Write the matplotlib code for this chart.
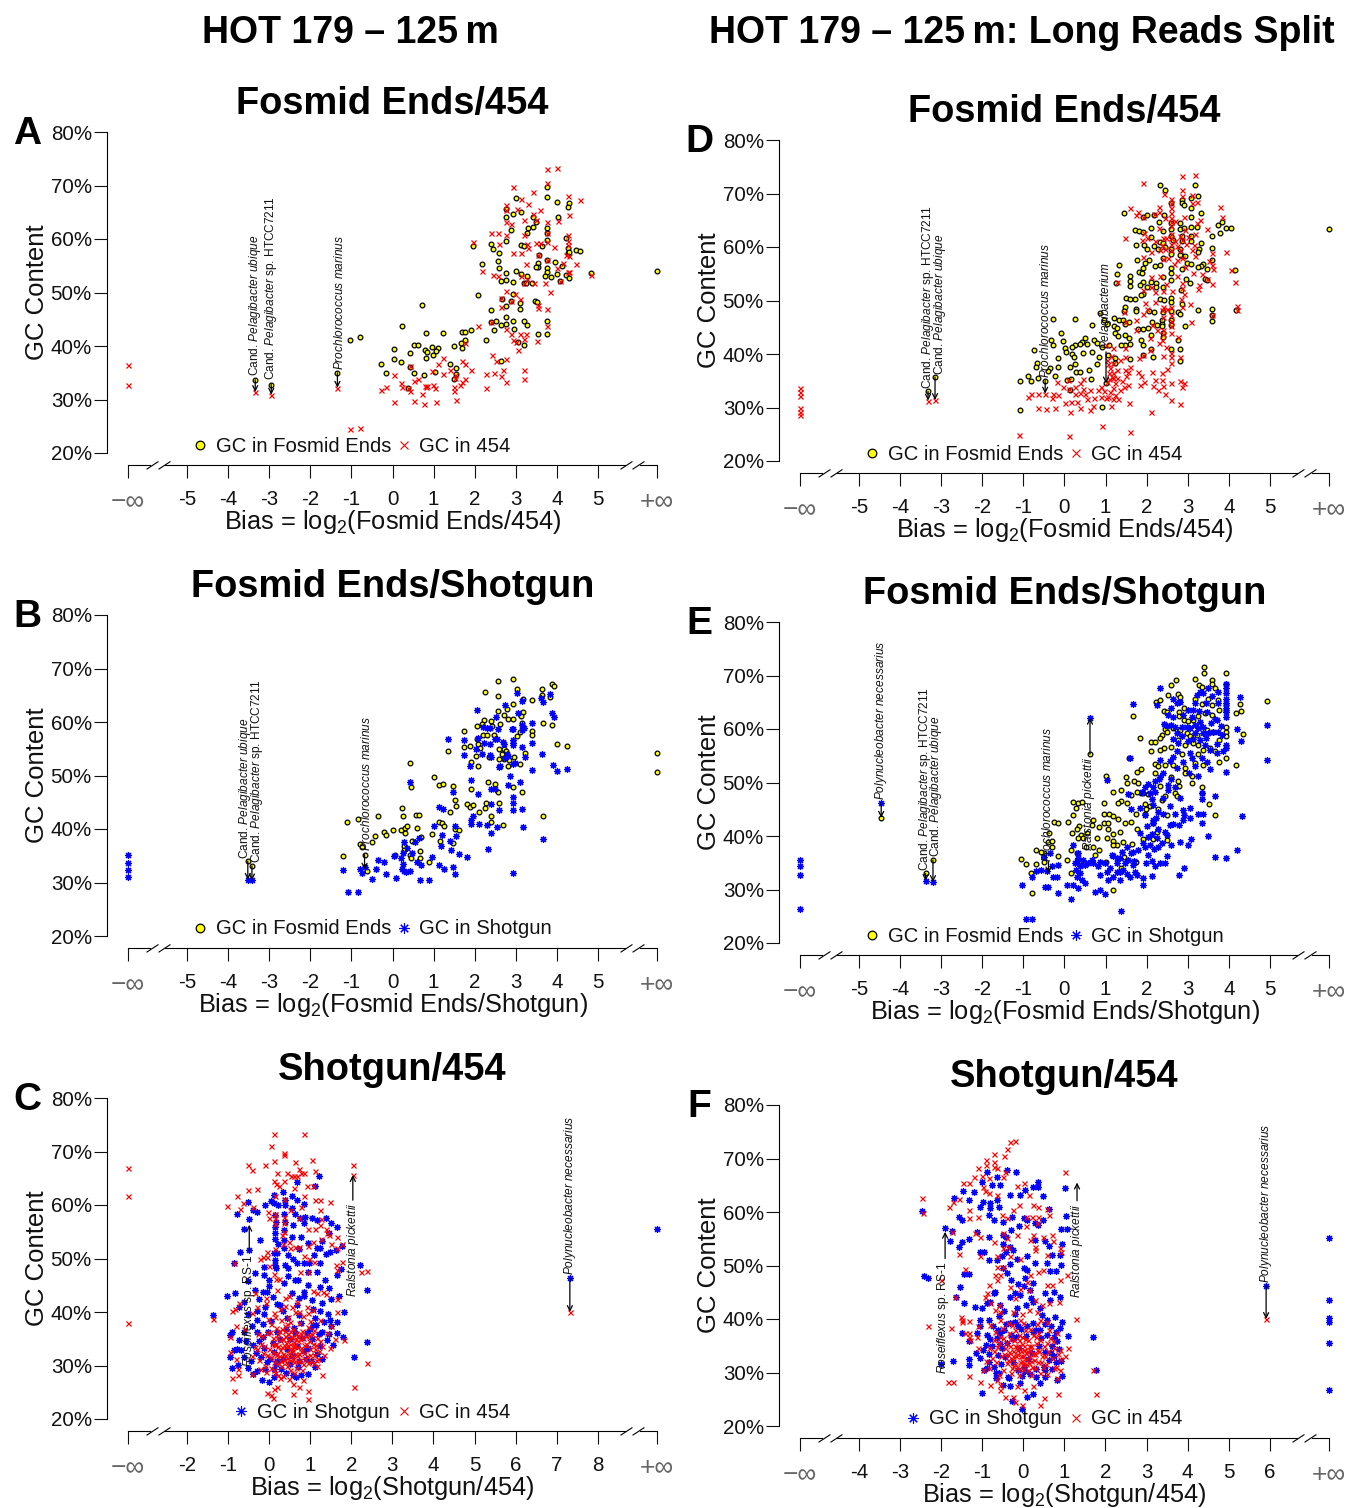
import numpy as np
import matplotlib
matplotlib.use('Agg')
import matplotlib.pyplot as plt
from matplotlib.lines import Line2D

plt.rcParams['font.family'] = ['Liberation Sans', 'DejaVu Sans']
plt.rcParams['mathtext.fontset'] = 'custom'
plt.rcParams['mathtext.rm'] = 'Liberation Sans'
plt.rcParams['mathtext.it'] = 'Liberation Sans:italic'
plt.rcParams['mathtext.bf'] = 'Liberation Sans:bold'
plt.rcParams['mathtext.default'] = 'regular'

INF = np.inf
W, H = 1348, 1508

# ---------------------------------------------------------------- data A
A_fosmid = [(INF,54.1),(4.83,53.6),(4.47,58),(4.55,57.8),(4.29,66.7),(4.26,66),(4.03,64.1),(4,67),(3.77,67.9),(3.77,69.8),(3.01,67.6),(2.77,65.7),(2.77,64.2),(2.93,64.7),(3.13,65),(3.41,64.2),(3.5,63.2),(3.43,62.3),(3.3,62),(3.28,61.2),(2.89,61.7),(3.77,62.1),(3.77,61.2),(3.77,59.8),(2.77,59.6),(2.4,59.1),(2.44,58.1),(1.96,58.6),(2.58,57.4),(3.13,58.9),(3.19,58.6),(3.63,58.7),(3.57,57.1),(4.23,60.2),(4.26,58.3),(4.26,57.4),(4.3,57.5),(2.18,55.4),(2.57,55.8),(2.58,54.5),(2.77,53.6),(3,54.1),(3.13,53.5),(3.28,53),(3.53,55.6),(3.53,54.8),(3.49,54.7),(3.77,56.1),(3.77,54.6),(3.77,53.9),(3.71,53),(3.85,52.9),(3.95,55.7),(4.13,55),(4,53.4),(4.07,52.1),(4.23,53.3),(4.3,52.8),(2.65,52.2),(2.77,52.4),(2.93,51.9),(3.19,51.7),(3.24,51.7),(3.4,51.8),(2.93,49.7),(2.09,49.5),(2.67,48.7),(2.89,48.4),(3.09,48),(3.46,48.4),(3.52,48.2),(3.09,46.9),(2.77,47.4),(2.4,46.8),(0.72,47.7),(2.77,45.4),(2.93,44.7),(3.19,44.7),(3.28,43.9),(3.77,44.7),(2.52,44.7),(2.4,44.4),(2.65,44),(2.77,44.2),(2.96,43.1),(2.47,42.9),(3.55,42.2),(3.77,42.2),(0.23,43.8),(0.81,42.4),(1.23,42.4),(1.69,42.6),(1.77,42.6),(1.92,42.9),(2.28,41.2),(3.06,40.7),(3.19,40.2),(-1.04,41.2),(-0.78,41.7),(0.04,39.4),(0.53,40.1),(0.62,40.1),(0.97,39.9),(1.11,39.6),(1.05,39),(0.78,39.2),(0.84,38.8),(0.42,38.6),(0.99,38.4),(0.82,37.7),(1.49,40),(1.67,40.5),(1.69,39.7),(1.77,41.1),(0.04,37.6),(0.21,37),(-0.29,36.7),(-0.16,34.9),(0.42,36),(0.53,35),(0.77,34.5),(1.03,35.1),(1.39,36.7),(1.54,35.8),(1.54,34.8),(1.49,33.8),(2.63,37.2),(0.38,32.1),(-1.34,35),(-3.34,33.7),(-2.95,32.8)]
A_454 = [(-INF,36.4),(-INF,32.8),(-1.04,24.4),(-0.78,24.7),(-3.34,31.4),(-2.95,30.9),(-1.34,32.2),(3.77,73.1),(4,73.2),(3.77,70.4),(2.93,69.7),(3.41,68.7),(3.13,67.4),(3.3,66.6),(2.77,66.4),(4.56,67.3),(4.26,68),(3.02,65.7),(2.77,65.5),(3.58,65.4),(3.43,64.7),(4.3,64.4),(3.19,63.6),(3.49,63.6),(4.03,63.3),(3.77,63.2),(2.77,63.2),(2.89,62.8),(2.4,61.2),(2.57,61.2),(2.77,60.7),(3.19,60.7),(3.77,61.2),(4.26,60.8),(1.96,59.5),(2.58,59),(3.5,59.3),(3.59,59.3),(3.77,59.5),(3.94,58.5),(3.28,59),(3.29,58.3),(3.13,57.4),(2.93,57.3),(3.55,57.1),(4.26,59.6),(4.26,58.8),(4.23,57.1),(4.3,56.8),(3.77,56),(3.26,55.4),(4.14,55.5),(4.47,55.4),(2.18,54.1),(2.45,53.3),(2.57,53),(4,54.6),(4.26,53.8),(4.3,53.8),(3.13,53.1),(3.28,52.6),(3.19,51.7),(3.45,51.7),(3.71,51.7),(4.07,52.1),(4.83,53.2),(3.84,50.1),(2.77,50.3),(2.99,49.7),(2.65,49),(3.09,48.7),(2.89,48.4),(2.65,47.2),(3.53,47.6),(3.55,47.1),(3.77,47),(2.09,43.8),(2.4,44.4),(3.77,43.7),(2.77,43.1),(2.89,42.3),(3.09,42.3),(3.25,42.3),(3.19,41.3),(2.93,41.1),(3,40.8),(3.52,40.9),(3.06,39.3),(1.77,40.6),(2.41,38.4),(2.53,37.2),(2.77,37.6),(1.23,37.7),(1.69,37.2),(1.77,36.7),(1.11,36.7),(0.42,36.3),(1.39,35.5),(1.92,35.5),(2.68,35.5),(3.19,35.6),(2.28,34.8),(2.48,35),(2.64,34.4),(2.77,33.3),(3.19,33.9),(0.97,35.3),(1.23,34.8),(0.04,34.5),(1.53,34.6),(1.53,34.1),(1.77,33.9),(1.69,33.3),(1.65,32.7),(2.28,32.1),(0.63,33.8),(0.53,33.4),(0.21,33),(0.23,32.3),(-0.16,32.3),(-0.29,31.7),(0.37,32.2),(0.42,31.6),(0.78,32.5),(0.84,32.5),(0.82,32.4),(0.99,32.7),(1.03,32.2),(1.49,32.3),(1.49,31.5),(0.72,31),(0.04,29.6),(0.53,29.7),(0.77,29.2),(1.05,29.5),(1.54,30)]

# ---------------------------------------------------------------- data B
B_fosmid = [(INF,54.2),(INF,50.6),(-3.52,34),(-3.42,33.1),(2.56,67.7),(2.92,68),(3.04,66.2),(2.26,65.7),(2.56,64.8),(3.63,66.2),(3.63,65.1),(3.89,67.1),(3.92,66.8),(3.82,64.6),(3.4,64.2),(3.18,64.3),(2.92,63.3),(2.78,62.4),(2.56,62),(2.72,61.3),(3.18,61.9),(3.13,61.2),(2.92,60.5),(2.82,60.5),(2.22,60.3),(2.18,59.7),(2.4,60.1),(2.62,59.6),(3.14,59.9),(3.67,59.9),(3.89,59.4),(2.06,59.2),(2.41,59.2),(1.74,58.3),(3.1,58.2),(3.4,58.4),(3.4,57.6),(3.02,57.4),(2.47,57.6),(2.19,57.6),(2.3,57.6),(2.06,56.9),(2.07,55.9),(1.75,55.4),(1.89,55.5),(2.13,55.2),(1.35,54.6),(2.03,53.7),(2.58,54.9),(2.72,54.9),(2.76,54.5),(2.67,54),(2.96,53.4),(2.72,53.1),(2.58,53.1),(2.35,53.4),(2.84,52.9),(3.22,54.2),(3.99,55.8),(4.24,55.6),(1.92,52.5),(2.08,51.8),(2.82,51.8),(3.09,52.1),(0.43,52.3),(1.02,49.7),(1.13,48.2),(1.22,48.4),(1.47,48.1),(0.45,47.8),(2.32,48.8),(2.49,48.5),(1.92,47.5),(2.56,46.9),(2.92,47.9),(3.14,46.9),(1.51,45.5),(1.81,44.7),(1.89,44.1),(1.96,44.4),(1.55,44.3),(2.28,44.9),(2.26,44),(2.6,44.9),(0.22,43.9),(0.26,42.5),(0.56,42.7),(0.64,42.6),(-0.35,42.5),(-0.84,41.8),(-1.1,41.3),(1.4,43.1),(2.1,43.2),(2.4,42.4),(2.4,41.3),(3.67,42.4),(1.13,41.4),(1.2,41.1),(1.25,40.6),(2.7,40.8),(0.02,39.75),(-0.21,39.5),(-0.16,38.9),(-0.42,38.7),(0.2,39.9),(0.3,40.1),(0.36,40.6),(0.3,39.3),(0.59,40.1),(0.95,39.1),(1.52,40),(1.63,39.75),(-0.49,37.6),(0.7,38.5),(0.48,37.8),(1.16,37.8),(1.47,37.3),(-0.79,37.2),(-0.75,36.7),(0.28,36.8),(0.27,36.1),(0.68,35.9),(-1.2,35),(-0.68,35.2),(0.07,35.1),(0.43,35.2),(0.44,34.5),(0.67,34.6),(0.89,33.8),(-0.62,32.2)]
B_shotgun = [(-INF,35.1),(-INF,33.6),(-INF,32.3),(-INF,31),(-3.52,30.5),(-3.42,30.4),(3.04,65.4),(3.82,65.2),(3.62,64.5),(3.67,63.8),(3.14,63.9),(2.73,63.1),(2.06,62.3),(3.05,61.7),(3.89,61.6),(3.92,60.9),(2.53,61),(3.4,59.9),(2.9,58.6),(2.94,58.6),(3.16,59.4),(3.19,58.8),(3.16,58.5),(2.21,59.1),(2.29,58.8),(2.37,58.8),(2.56,58.6),(1.75,56.6),(1.35,56.8),(2.09,57),(2.22,56.1),(2.36,55.8),(2.49,56.8),(2.55,56.8),(2.68,56.3),(2.72,55.8),(2.92,56.6),(2.92,56),(2.94,55.7),(3.14,55.3),(3.4,56),(2.03,55),(2.18,54),(1.73,53.8),(2.37,53.8),(2.4,53.4),(2.78,54.1),(2.82,53.7),(2.74,53.2),(3.22,53.4),(3.63,54),(1.89,51.7),(2.58,51.5),(2.62,51.7),(2.94,52.1),(2.98,52.4),(3.4,51.1),(3.9,51.9),(3.99,50.9),(4.24,51.2),(2.87,50),(2.82,48.3),(3.09,48.8),(1.92,49.2),(0.43,48.7),(2.4,47.5),(2.49,47.5),(1.47,46.9),(2.08,46.6),(2.92,45.9),(2.92,44.9),(2.4,44.7),(1.13,44.2),(1.22,43.7),(2.6,43.6),(2.92,43.6),(3.14,43.7),(1.96,42.4),(1.9,41.7),(1.92,40.9),(2.11,40.9),(2.29,40.8),(2.55,40.4),(3.18,40.4),(1.02,40.6),(1.52,40.6),(2.4,39.3),(1.2,38.9),(1.55,38.7),(0.55,37.6),(0.64,38.3),(0.29,37.6),(1.4,37.8),(3.67,38.1),(2.32,36.3),(1.17,36.8),(0.35,36.4),(0.26,35.5),(0.04,35),(0.47,35.5),(1.43,36.1),(1.63,35.4),(1.81,34.7),(0.95,34.8),(0.21,34.5),(-0.35,34.2),(-0.21,33.9),(0.26,33.5),(0.59,33.9),(0.7,33.2),(1.13,33.3),(1.25,32.5),(1.47,32.9),(1.53,31.5),(-1.2,32.3),(-0.79,32.5),(-0.75,31.8),(-0.67,32.95),(-0.41,32.6),(0.22,32.5),(0.28,32.2),(0.43,32.2),(0.33,32),(-0.16,31.6),(0.08,30.8),(-0.5,30.6),(0.68,30.5),(0.89,30.5),(2.92,31.7),(-1.09,28.2),(-0.84,28.2)]

# ---------------------------------------------------------------- data C
C_shotgun = [(INF,55.5),(7.32,46.4),(1.22,65.4),(0.67,64.3),(1.12,63.6),(0.11,61.9),(0.33,62.4),(0.55,61.7),(0.13,60.3),(-0.5,60.5),(-0.77,58.4),(-0.4,59.1),(-0.28,58.6),(-0.1,60),(0.06,60.7),(0.21,60),(0.39,61),(0.39,60),(0.55,59.5),(0.67,60.9),(0.84,60.1),(-0.48,57.3),(-0.62,55.6),(-0.21,53.5),(-0.48,51.5),(-0.71,51.2),(0.63,58.3),(0.75,57.5),(0.88,57.8),(1.04,57.5),(1.16,57.2),(1.38,57.6),(1.52,56.6),(1.65,55.8),(0.15,54.7),(0.15,53.6),(0.23,52.7),(0.37,53.5),(0.37,51.9),(0.59,56.3),(0.55,54),(0.77,54.1),(0.84,56.6),(1.47,54.8),(1.77,52.3),(1.63,51.6),(1.48,51.2),(1.38,50.8),(1.24,51.9),(1.16,51.9),(0.13,51),(0.15,49.7),(0.15,48.8),(0.59,50),(0.69,49.2),(0.85,49.2),(0.98,49.1),(1.24,49.1),(0.96,47.5),(1.16,47.4),(-0.85,49.1),(-0.12,48.5),(-0.12,46.9),(0.4,48.8),(0.47,48.2),(0.47,46.7),(1.65,46.9),(1.74,48),(2.21,48.7),(0.63,46),(0.71,45.9),(0.96,45),(1.24,44.7),(0.01,46),(0.01,44.9),(0.37,45.4),(1.36,45.9),(1.47,44.4),(1.71,43),(1.52,42.4),(2.38,44.2),(-1.01,43),(-0.83,43.6),(-0.34,44.1),(-0.14,43.8),(-0.04,43.8),(0.86,43.7),(0.86,42.9),(1.28,41.7),(1.24,40.1),(1.44,39.7),(0.2,41.5),(0.27,41.3),(0.67,41.4),(1.04,42.2),(-0.28,40.1),(-0.12,39.6),(-0.1,41),(-1.35,39.5),(-0.72,41),(1.83,40),(1.65,38.2),(1.48,38.5),(1.52,37.3),(-0.91,36.3),(-0.95,35.7),(-0.42,37.3),(-0.3,38.5),(1.66,36),(1.81,35.3),(2.38,34.4),(2.06,31.5),(-0.95,31.5),(-0.85,32.9),(-0.67,32.9),(-0.75,30.1),(-0.89,29.6),(-0.5,29.6),(-0.38,28.5),(-0.18,27.3),(0.01,27),(0.11,27.9),(0.59,28.2),(0.79,28.2),(0.96,28.5),(0.05,38.4),(0.2,36.2),(0.45,38.8),(0.6,37),(0.78,38),(1,36.9),(1.15,37.5),(1.3,36.2),(1.05,35),(1.25,33.6),(-0.15,35.4),(-0.3,36.3),(-0.4,33.8),(-0.2,31.6),(1.3,31.2),(1.12,29.8),(0.3,29.3),(0.7,29.8),(0.9,31.2),(-0.1,29.4),(0.16,30.3),(0.5,30.2),(-0.55,34.6),(1.4,34.8)]
C_shotgun_core = [(0.15,55.8),(0.16,56.9),(0.15,58.2),(0.37,55.4),(0.38,56.9),(0.37,58.4),(0.17,48.2),(0.2,51.1),(0.46,50.6),(0.72,51.7),(0.96,52.9),(1.1,50.6),(1.3,53.3),(-0.33,47.2),(-0.5,45.8),(-0.62,41.9),(-0.52,39.7),(-0.25,42.4),(0.1,42.8),(0.55,43.6),(0.72,42.7),(1.06,40.6),(0.74,39.4),(1.12,38.9),(0.35,40.1),(-0.14,37.8),(-0.03,36.3),(-0.24,34.6),(-0.32,32.4),(-0.44,30.9),(-0.62,36.2),(-0.72,34.8),(-0.78,33),(-0.6,31.5),(-0.12,33.2),(0.02,31.2),(0.1,34.2),(0.12,32.6),(0.2,30.9),(0.28,34.9),(0.33,31.2),(0.41,36.9),(0.44,33),(0.52,34.9),(0.57,31.8),(0.63,36),(0.68,33.6),(0.73,30.9),(0.8,35.2),(0.84,32.8),(0.92,36),(0.96,33.3),(1.02,30.9),(1.08,37.6),(1.16,32.2),(1.22,35.8),(1.34,38.2),(1.46,35.9),(1.56,33.8),(-0.05,30.6),(0.42,28.6),(0.12,29.4),(-0.28,28.9),(0.66,27.9)]
C_454 = [(-INF,66.9),(-INF,61.7),(-INF,38),(7.32,40),(0.11,73.3),(0.86,73.3),(0.06,71),(0.37,69.8),(0.37,69.3),(0.11,68.2),(-0.5,67.5),(-0.41,66.5),(-0.09,67.5),(0.64,68),(1.05,68.4),(2.04,67.4),(2.04,65.6),(0.74,66.7),(1.11,66.4),(0.2,65.9),(0.45,65.9),(0.53,65.5),(0.61,65.5),(0.67,65.4),(0.77,65.9),(0.84,66),(0.37,64.5),(0.11,64.4),(0.16,64),(0.24,63.6),(0.92,63.6),(1.08,63.6),(0.61,63.1),(-0.5,62.8),(-0.28,62.9),(0.86,61.7),(-0.77,61.6),(1.11,60.9),(1.23,60.9),(1.49,60.5),(-1.01,59.9),(-0.63,60.4),(-0.71,59.3),(-0.4,59.6),(0.15,61.6),(0.37,61.2),(0.79,59.7),(1.23,59.1),(-0.02,58.6),(0.01,57.5),(0.15,58.4),(0.15,57.5),(0.15,56.5),(0.37,57.7),(0.37,56.6),(0.51,59.1),(0.74,57.5),(1.27,57.3),(1.12,55.6),(1.24,56.3),(1.38,55.6),(1.4,54.8),(1.46,54.4),(1.65,54),(0.31,54.4),(0.37,55),(0.96,55.6),(1.27,53.7),(1.08,53),(0.96,52.3),(0.63,52.1),(0.74,52.1),(0.35,52.8),(0.49,53.1),(0.51,51.9),(0.15,51.7),(1.77,52.7),(1.51,52.7),(1.65,52),(-0.22,49.9),(-0.15,50.2),(-0.04,51.2),(-0.04,50.3),(0.85,50.4),(0.98,49.9),(1.09,49.4),(0.01,48.6),(-0.85,49.2),(1.63,48.8),(1.77,49.3),(1.66,47.9),(2.23,47.4),(2.38,47.6),(0.11,47.1),(0.96,47.5),(0.75,47.4),(0.17,46.2),(0.24,46.2),(0.2,44.2),(1.08,44),(1.18,43.6),(1.32,43.8),(1.39,43.4),(0.48,43),(0.39,42.6),(1.66,42.4),(-0.07,42.6),(-0.07,41.6),(-0.34,43.5),(-0.72,41.7),(-0.83,40.6),(-0.91,40.1),(-1.35,38.6),(0.55,40.9),(0.63,40),(0.74,40),(0.92,41),(0.96,39.9),(1.08,40.4),(1.65,40),(-0.42,39.9),(0.15,39),(0.47,39.1),(-0.3,41),(-0.8,37.3),(-0.62,36.8),(-0.95,35.4),(1.52,37.3),(1.4,36),(1.24,38.5),(1.61,34.9),(1.82,34.8),(1.48,33.3),(-0.95,32.6),(-0.8,31.2),(-0.91,27.6),(-0.85,25.3),(-0.75,29.3),(-0.75,28.2),(-0.42,28.5),(1.28,28.2),(2.39,30.5),(2.06,26),(0.96,25.3),(0.96,23.8),(0.59,26.6),(0.73,26),(0.82,27.2),(0.58,24.7),(0.2,26),(0.12,25.7),(-0.04,24.8),(0.04,24.5),(0.09,23.9),(0,33),(0.05,31.5),(0.1,35.2),(0.15,34),(0.2,32.2),(0.25,36.5),(0.3,30.8),(0.32,33.5),(0.35,35),(0.38,37.3),(0.4,32),(0.42,34.2),(0.45,30),(0.46,35.8),(0.48,33),(0.5,36.5),(0.5,31),(0.52,34),(0.55,32.8),(0.57,35.3),(0.6,30.6),(0.62,33.8),(0.65,36),(0.68,32),(0.7,34.5),(0.75,31),(0.78,33.2),(0.82,35.2),(0.85,32.4),(0.9,34),(0.95,30.5),(1,33),(1.05,35.8),(1.1,32),(1.15,33.8),(1.2,31.2),(1.25,34.5),(-0.1,30),(-0.15,32.4),(-0.2,34),(-0.25,31),(-0.3,33),(-0.05,36),(-0.08,28.7),(0.12,29.2),(0.22,28.2),(0.05,37.7),(0.3,38.5)]
C_454_core = [(-0.18,35.6),(-0.12,33.7),(-0.06,31.9),(0.03,36.3),(0.07,34.1),(0.09,32.6),(0.13,30.7),(0.17,37.1),(0.19,35.1),(0.21,33.6),(0.24,31.7),(0.27,34.7),(0.29,29.9),(0.31,36.9),(0.33,32.1),(0.37,33.9),(0.39,35.6),(0.41,30.6),(0.43,37.8),(0.44,31.4),(0.47,34.9),(0.49,32.4),(0.51,38.2),(0.53,35.4),(0.56,33.1),(0.58,31.2),(0.59,36.8),(0.61,34.3),(0.63,32.2),(0.66,29.6),(0.67,35.6),(0.69,33.4),(0.71,30.9),(0.73,37.9),(0.76,34.9),(0.79,32.7),(0.81,36.5),(0.83,30.2),(0.86,33.9),(0.89,35.6),(0.92,31.7),(0.94,37.2),(0.97,34.5),(1.01,32),(1.03,30.8),(1.06,34.1),(1.09,36.7),(1.12,33.1),(1.14,31),(1.17,35.2),(1.22,32.8),(1.28,33.6),(1.33,31.9),(1.18,29.9),(0.04,29.6),(0.14,28.6),(0.26,27.6),(0.35,28.1),(0.48,27.5),(0.62,28.6),(0.8,29.1),(-0.03,38.6),(0.11,39.8),(0.26,40.6),(0.4,41.2),(0.68,41.8),(0.83,39.3),(1,38.4),(-0.27,35.9),(-0.34,33.4),(-0.42,31.7),(-0.22,29.4),(0.14,33.8),(0.22,35.9),(0.28,32.9),(0.36,31.1),(0.45,33.6),(0.54,32),(0.6,33.6),(0.65,34.9),(0.72,32.2),(0.78,35.9),(0.87,31.2),(0.98,35.7),(1.1,30.4),(0.23,30.4),(0.51,29.1),(0.39,36.5),(0.16,31.9)]

# ---------------------------------------------------------------- data D
D_fosmid = [(INF,63.4),(-3.32,33),(-3.15,35.7),(2.32,71.5),(2.44,70.7),(3.17,71.6),(3.08,69.2),(3.25,69.5),(2.86,68.7),(2.86,68.2),(2.9,67.8),(3.08,67.2),(3.31,66.3),(3.08,65.7),(2.59,68.3),(2.59,63.4),(1.45,66.4),(1.91,65.7),(2.01,66),(2.18,66),(2.43,66),(2.29,64.7),(2.59,64.4),(2.8,64.4),(3.08,63.8),(3.22,63.8),(3.74,64.2),(3.82,64.7),(3.92,63.5),(4.05,63.6),(3.79,62.6),(1.71,63.2),(1.82,62.9),(1.91,62.8),(2.11,63.5),(2.4,62.9),(2.81,63.3),(2.91,63.6),(2.1,61.9),(2.59,62),(2.65,61.4),(2.86,62.1),(2.86,61.2),(3.08,62),(3.08,61.2),(3.59,62.1),(1.74,60.3),(1.93,60.3),(2,59.7),(2.18,60.2),(2.28,59.6),(2.32,61),(2.4,60.7),(2.45,60),(2.59,58.6),(2.59,59.6),(2.81,59.6),(2.86,58.3),(3.33,60.8),(3.28,59.7),(3.26,59.1),(3.6,59.9),(1.77,57.6),(2.05,57.6),(1.96,57.1),(2.2,56.4),(2.4,57.9),(2.32,56.6),(2.81,58.5),(2.94,58.3),(2.97,57.1),(3.08,56.8),(3.6,57.6),(3.38,56.8),(3.32,56.5),(3.26,56.2),(3.46,55.8),(4.14,55.7),(1.32,56.7),(1.92,56),(1.82,55.3),(1.88,55.2),(2.59,56.1),(2.59,55.1),(2.85,55.8),(1.27,54.9),(1.26,53.2),(1.59,54.6),(1.59,53.6),(1.59,52.7),(1.91,53.4),(1.83,52.9),(2,52.6),(2.1,53.4),(2.23,53.3),(2.4,54.4),(2.23,52.6),(2.4,52.5),(2.59,53.8),(2.95,54),(3.06,53.2),(3.43,54.1),(3.47,53.9),(2.83,52),(2.59,50.5),(2.59,49.8),(1.91,51.3),(1.85,51),(1.5,50.5),(1.59,50.2),(1.71,50.2),(2.32,50.2),(2.42,50.1),(2.86,49.3),(3.25,48.3),(3.6,48.4),(4.18,48.3),(1.47,48.8),(1.45,48),(1.74,48.5),(1.74,48),(2.05,48),(2.18,47.9),(2.4,47.9),(2.59,48),(2.77,47.8),(2.81,47.4),(-0.27,46.5),(0.26,46.5),(0.86,47.6),(0.66,45.4),(3.6,47.2),(3.6,46.1),(1.21,46.7),(1.33,46.4),(1.43,46.4),(1.58,46),(0.97,46.4),(1.03,45.6),(1.21,45.2),(1.27,44.8),(1.47,45.6),(2.14,46),(2.24,45.4),(2.36,46.4),(2.36,45.7),(2.36,45.3),(2.59,46.4),(2.59,45.4),(2.92,45.2),(1.8,44.7),(1.92,44.7),(2.02,44.9),(-0.09,44),(-0.03,42.5),(-0.33,42.7),(-0.27,41.7),(0.5,43),(0.42,42.3),(0.26,41.7),(0.38,41.9),(0.54,41.9),(0.71,42.6),(0.8,42.1),(0.91,41.4),(1.09,41.7),(1.23,43.9),(1.31,43.4),(1.47,43.5),(1.58,42.9),(1.59,41.9),(1.47,41.6),(1.37,41.6),(1.85,42.7),(2.1,43.6),(2.4,43.9),(2.4,43.2),(2.77,42.7),(1.92,41.6),(2.1,41),(2.59,40.9),(2.82,40.9),(-0.73,40.7),(0.02,41.2),(0.03,40.4),(0.19,41.4),(0.18,40),(0.24,39.5),(0.46,40.1),(0.66,40.3),(0.85,39.5),(1.07,39.8),(1.23,39.2),(1.24,38.4),(1.59,39),(1.92,39.8),(2.16,39.5),(2.81,38.6),(-0.66,38.4),(-0.7,37.5),(-0.35,37.3),(-0.39,36.8),(-0.15,39.3),(-0.15,37.5),(0.13,37.6),(0.26,38.1),(0.29,36.7),(0.38,36.6),(0.78,38.1),(0.6,37.1),(-0.9,35.9),(-0.82,34.9),(-1.08,34.9),(-0.65,35.6),(-0.47,35),(-0.23,35.8),(0.07,35.1),(0.17,35.3),(0.64,35.3),(1.01,34.5),(0.13,33.2),(-1.08,29.6),(0.91,30.1)]
D_454 = [(-INF,33.6),(-INF,32.9),(-INF,32.2),(-INF,29.9),(-INF,29.2),(-INF,28.6),(-3.32,31.3),(-3.15,31.4),(2.86,73.3),(3.17,73.5),(1.91,72),(2.86,70.6),(2.43,69.9),(3.11,69.8),(2.86,69.6),(2.59,68.9),(2.59,68.3),(3.22,68.4),(3.09,68.2),(2.31,67.5),(1.59,67.3),(3.79,67.5),(3.82,65.6),(1.8,66.5),(1.73,66),(1.92,65.7),(2.18,66.2),(2.31,66.6),(2.45,65.4),(2.91,65.7),(2.59,65.4),(2.59,64.7),(2.59,63.9),(3.3,65),(3.22,64.4),(3.47,63.4),(1.46,61.6),(2.81,62),(2.86,61.3),(1.93,62.7),(2,61.6),(1.88,61.3),(2.4,61.6),(2.31,63.5),(2.59,60.6),(2.59,59.4),(2.7,61.2),(2.81,59.4),(3.09,59.4),(2.32,59.4),(2.44,59.7),(2.1,59.1),(1.92,58.2),(2.4,57.7),(2.85,57.9),(2.73,57.6),(3.18,58.3),(3.6,58.8),(3.6,56.6),(3.62,55.8),(3.52,57.4),(3.92,59),(4.04,55.7),(4.15,53.4),(3.34,55),(3.46,54.1),(3.6,53),(1.27,53.5),(2.1,54.3),(2.1,52.5),(1.92,52),(2.32,54.5),(2.85,53.2),(2.85,52.3),(3.27,52.9),(3.26,52.1),(2.61,51.8),(2.4,51.8),(2.84,50.3),(3.05,49.4),(2.85,48.7),(1.97,49.5),(2,48.5),(2.2,49.8),(4.19,49),(4.19,48.2),(2.4,48.8),(2.36,48.2),(2.59,48.8),(2.49,48.5),(1.45,47.9),(1.74,46.4),(1.92,47.4),(1.47,46),(1.74,44.5),(3.6,47.2),(3.08,45.9),(2.4,47),(2.4,44.5),(2.59,43.9),(2.77,43.2),(2.4,43.7),(2.12,45.4),(2.24,44.5),(2.08,42.9),(2.36,42.6),(2.31,42),(2.08,40.8),(1.92,39.8),(1.82,39.2),(2.4,39.6),(2.59,40.2),(2.59,39.4),(2.59,38.4),(2.81,39.4),(1.47,41.1),(1.47,39.5),(1.35,38.9),(1.59,37.6),(1.47,37),(1.19,41.1),(1.01,41.7),(2.13,36.6),(2.36,36.4),(2.36,35.1),(2.21,35.1),(2.4,34),(2.16,34),(2.59,34.6),(2.81,35),(2.91,34.5),(2.87,33.8),(2.44,32.5),(2.59,31.4),(2.82,30.6),(2.1,29.2),(1.94,34.7),(1.84,34.2),(1.55,34.2),(1.5,35.9),(1.55,36.7),(1.19,35.5),(1.07,38.2),(1.11,37.3),(1.09,36.4),(1.15,35.7),(0.46,35.3),(0.38,34.5),(0.26,33.9),(0.09,35.1),(-0.03,33.9),(-0.19,34.8),(1.27,35.5),(1.23,34.5),(1.35,33.3),(0.9,33.9),(1.03,34.8),(-0.65,32.5),(-0.88,32),(-0.82,32.5),(-0.47,32.6),(-0.27,32.5),(-0.31,31.7),(-0.15,32.3),(0.01,30.9),(0.17,31),(0.13,29.2),(0.38,30),(0.26,32.6),(0.38,32.8),(0.5,32.6),(0.62,33.3),(0.9,32),(1,31.7),(1.11,32.9),(1.17,31.6),(1.31,31.6),(1.58,30.8),(1.12,30.3),(0.7,30.2),(0.62,29.6),(-0.65,30),(-0.46,29.8),(-0.23,30),(0.91,26.5),(1.59,25.4),(0.12,24.7),(-1.1,24.8),(0.97,33.1),(1.06,32),(1.18,33.6),(1.24,32.4),(1.39,35),(1.44,33.9),(1.09,35.3),(1.18,36.4),(1.27,37.1),(1.04,38.8),(1.12,39.6),(1.18,38.3),(0.46,33.4),(0.55,31.5),(0.3,31.1),(0.71,31.8),(0.82,33.2),(0.1,33.4),(2.59,67.2),(2.59,66.3),(2.59,62.4),(2.59,61.7),(2.7,64.9),(2.92,63.1),(3.01,61.8),(3.18,62.4),(2.2,61.1),(2.36,60.4),(2.47,61.6),(2.73,60.1),(2.95,60.6),(3.14,60.3),(2.52,58),(2.66,56.9),(2.93,56.2),(3.12,55.1),(2.73,54.6),(2.48,53.1),(2.9,51.2),(2.19,51.5),(2.59,47.2),(2.59,46.1),(2.59,45.2),(2.47,41.4),(2.5,37.2),(1.78,36.6),(1.87,35.9),(2.27,33.2)]

# ---------------------------------------------------------------- data E
E_fosmid = [(3.39,71.5),(3.4,70.4),(3.92,70.5),(3.18,69.4),(3.6,69.2),(3.6,68.4),(3.28,68.3),(3.34,67.9),(2.72,69.1),(2.59,68.2),(2.52,66.3),(2.75,66.5),(2.81,65.9),(3.67,67.6),(3.92,68.5),(2.23,65.1),(2.33,65.5),(2.43,63.4),(2.49,63.2),(2.79,65),(2.91,64),(2.79,63.2),(3.18,65.7),(3.34,64.6),(3.49,65.7),(3.58,64.5),(3.73,65.4),(3.92,64.5),(3.92,63.6),(4.27,64.6),(4.3,63.4),(4.18,63),(1.67,62.4),(4.93,65.3),(2.79,62.5),(2.91,61.6),(3.01,61.5),(3.13,61.7),(3.26,62.4),(3.42,63),(3.58,62.6),(3.77,63.6),(2.45,60),(2.49,59.5),(2.36,58.9),(2.32,58.3),(2.65,60.1),(2.81,59.8),(2.97,59.2),(3.05,58.7),(3.22,58.9),(3.46,59.8),(3.62,59.5),(3.77,58),(3.92,60.4),(3.92,59.5),(4.34,59),(1.84,58.3),(2.1,57.5),(2.2,57.5),(2.1,55.9),(2.43,56.4),(2.59,56.7),(2.32,56.1),(2.77,57.9),(2.93,57),(3.13,57.3),(2.87,55.3),(3.26,57),(3.26,55.4),(3.38,56.1),(3.54,56.4),(3.66,55.8),(3.92,58.6),(0.62,55.3),(3.92,54.6),(3.77,53.8),(4.18,53.3),(1.58,54.5),(2.19,53.4),(2.28,53),(2.19,51.8),(2.45,53.3),(2.65,53.3),(2.92,52.8),(3.18,53.6),(3.38,53.3),(1.85,52.5),(1.76,51.9),(1.02,51.2),(1.5,51),(1.53,50),(1.7,50.3),(1.78,50),(1.85,48),(2.32,49.4),(2.59,51),(2.77,50.3),(2.92,51.8),(3.09,51.3),(2.79,49.4),(3.11,50),(3.34,49.2),(1.37,48.6),(1.19,48.2),(1.37,46.6),(1.29,46.1),(1.53,46.2),(1.63,47.7),(1.77,48.3),(1.92,48),(2.04,47.8),(0.97,46.2),(0.2,46.3),(0.34,46.1),(0.43,46.4),(0.27,45.2),(2.36,46.7),(2.45,47.5),(2.69,48.1),(2.73,47.4),(3.34,48),(3.51,46),(1.96,45.9),(2.08,45.6),(1.98,45),(2.28,45),(2.49,44),(3.66,43.9),(0.21,43.9),(0.08,42.7),(-0.26,42.7),(-0.17,42.4),(-0.37,40.6),(0.95,44.1),(1.09,44.2),(1.19,43.8),(1.31,43.1),(1.47,42.4),(1.63,42.7),(1.74,44.2),(1.96,44.2),(0.7,42.9),(0.66,42.1),(0.85,41.6),(0.95,42.5),(1.07,42.4),(1.07,41.4),(0.36,41.8),(0.3,41.3),(0.18,40.5),(0.4,40.2),(0.34,39.6),(0.44,39.6),(0.54,40.6),(0.8,39.6),(1.03,39.6),(1.19,40.3),(1.19,39.1),(1.35,40.8),(1.43,38.8),(1.76,41.4),(2.16,42.4),(2.24,40.7),(1.92,39.4),(2.15,39.4),(2.49,39.2),(1.27,38.4),(1.17,38.3),(1.65,38.5),(-0.39,38.9),(-0.3,39.1),(-0.31,38),(-0.49,36.8),(-0.56,37.1),(-0.69,37.4),(-1.06,35.7),(-0.94,34.7),(-0.69,34.7),(-0.51,35.2),(-0.15,36.3),(0.15,37.4),(0.3,36.8),(0.52,37.9),(0.69,38),(0.85,37.4),(0.05,35.5),(0.4,35.4),(0.75,36.4),(1.01,35.2),(1.45,36.1),(1.74,35.2),(1.37,34),(-0.82,33),(0.16,33.1),(-0.78,29.4),(1.19,29.9),(-3.38,33),(-3.2,35.5),(-4.46,43.4)]
E_shotgun = [(-INF,35.5),(-INF,34.4),(-INF,32.7),(-INF,26.3),(-3.38,31.6),(-3.2,31.4),(-4.46,46.2),(2.32,67.7),(1.67,64.6),(0.62,62.1),(3.92,68.4),(3.92,67.6),(3.92,66.7),(3.92,65.7),(3.92,64.9),(3.92,64),(3.92,63.2),(3.92,62.3),(4.27,65.9),(4.19,60),(4.29,57.8),(4.33,43.7),(4.93,60.7),(4.93,54.2),(3.3,67),(3.38,66.7),(3.74,67),(3.5,67.6),(2.24,64.5),(2.65,65.7),(2.73,64.8),(2.53,62.6),(2.59,63.9),(3.01,63.6),(2.89,62.6),(3.09,62.3),(3.3,61.4),(3.18,64.8),(3.46,63.2),(3.7,61.7),(3.74,64.8),(2.43,61),(2.49,60.6),(2.69,60.4),(2.73,59.2),(2.85,58.6),(3.05,60.1),(3.18,59.2),(3.36,60.4),(3.36,59.2),(3.5,59.2),(3.62,59.5),(3.74,59.5),(2.65,58.1),(2.77,57.3),(2.97,60.3),(3.3,58),(3.42,57),(3.54,56.1),(3.7,55.5),(3.92,57),(3.92,56.4),(2.65,54.8),(2.57,54),(2.73,55.8),(3.05,55.5),(3.34,54.5),(3.54,52.5),(3.92,51.9),(1.59,54.5),(2.32,54.2),(2.73,52.8),(2.4,51.8),(3.26,51.2),(3.18,53),(2.32,51.1),(2.21,50.3),(1.03,50.5),(2.53,49.5),(2.69,49.2),(2.16,49.2),(1.96,49.1),(2.04,49.8),(1.88,48.3),(2.08,48),(2.12,47),(1.54,47.9),(2.16,45.8),(3.05,45.2),(3.34,48),(3.65,47.5),(3.34,47),(3.38,44.2),(3.26,44.2),(2.4,44.2),(2.28,44.4),(2.7,44.2),(2.89,44.9),(2.91,43.9),(1.63,45),(1.84,45.2),(1.96,43.9),(2.16,43),(3.05,43.3),(3.34,42.4),(2.57,42),(2.65,42.2),(2.79,42),(2.89,43),(3.5,40),(4.19,37.4),(2.16,42.4),(2.28,41.4),(2.45,40.8),(2.49,40.2),(2.24,39.6),(1.84,40.5),(2.04,39.9),(1.92,38.6),(2.08,38.3),(2.27,37.9),(2.59,38.3),(2.81,38.9),(3.01,38.4),(3.07,39.4),(3.66,36.1),(3.92,35.8),(2.49,36.3),(1.51,38),(1.39,37.1),(1.15,36.4),(1.27,35.8),(1.67,37.1),(1.8,37.4),(1.96,38),(1.98,34.9),(2.12,35.4),(2.2,34.3),(2.32,34.9),(2.45,35),(0.2,38.3),(0.32,36.8),(0.34,35.8),(0.26,34.9),(0.38,34.3),(0.5,34.6),(0.66,35.5),(0.7,34.9),(0.82,34.3),(0.99,34.9),(1.27,34.9),(1.35,35.8),(1.47,34.9),(1.67,34.6),(1.72,33.3),(1.59,32.4),(1.35,33.3),(1.11,34),(0.38,33),(0.42,31.8),(0.5,31.2),(0.34,30.2),(0.21,30.8),(0.05,30.8),(0.86,32.7),(1.07,31.8),(1.19,32.4),(1.35,31.8),(1.51,32.9),(1.76,32.7),(2.14,32.6),(1.92,32.1),(1.92,30.8),(-0.51,36.1),(-0.35,36.8),(-0.56,33.6),(-0.31,34.3),(-0.19,32.4),(-0.27,32.4),(-0.43,33.4),(-0.15,34.6),(-0.69,33.4),(-1.04,30.8),(-0.8,32.4),(-0.47,30.5),(-0.39,30.5),(-0.15,29.3),(0.17,28.2),(0.74,29.6),(0.86,29.9),(0.99,29.2),(1.37,25.9),(-0.94,24.4),(-0.78,24.4),(2.79,32.7),(2.91,34),(0.28,33.6),(0.31,32.4),(0.3,35.3),(0.46,35.6),(0.57,34.9),(0.86,35.2),(1.03,33.3),(1.19,36.2),(1.43,33.7),(1.55,35.6),(1.61,36.9),(1.28,33.2),(1.7,35.4),(2.02,36.4),(2.18,37.6),(2.37,38.6),(2.12,40.4),(2.01,41.9),(2.22,43.4),(2.56,45.6),(2.4,47.1),(2.2,48.3),(2.52,48.6),(2.3,50.6),(2.6,50.7),(2.82,47.1),(3.03,51.7),(2.88,53.9),(3.1,54.6),(3.44,58.4),(3.18,60.7),(3.26,60.2),(3.56,61.2),(3.65,61.8),(3.12,63.6),(3.22,66.4),(3.6,66.2),(3.44,64.9),(3.28,63.3),(2.82,65),(2.64,62.2),(2.58,60.8),(2.87,60.4),(3,57.8),(3.12,58.2),(3.81,60.6),(3.84,58.9),(3.7,57.2),(3.85,55.8),(3.46,53.8)]

# ---------------------------------------------------------------- data F
F_shotgun = [(INF,55.1),(INF,43.5),(INF,40.2),(INF,39.4),(INF,35.5),(INF,26.7),(5.91,46.2),(1.69,36.7),(1.77,30.5),(0.37,65.7),(0.37,64.6),(0.48,63),(0.23,64.7),(1.01,64.5),(0.63,60.5),(1.05,59.3),(-2.45,60.1),(-0.17,67.5),(-0.4,67.9),(-0.64,66.6),(-0.88,67.5),(-0.76,65),(-1.01,65.7),(-1.19,63.8),(-1.47,64),(-1.31,62.2),(-1.68,62.7),(-0.56,65),(-0.64,62.2),(-0.8,61.6),(-0.97,61.9),(-1.05,61),(-0.8,60.7),(-0.6,61),(-0.32,63.2),(-0.07,63.2),(0.05,64.1),(-1.57,59.1),(-1.9,57.1),(-1.74,56.5),(-1.49,58.5),(-1.78,54.5),(-1.13,56.3),(-0.83,55.3),(-1.31,55),(-1.49,54.3),(-1.57,53.5),(-0.84,59.4),(-0.72,58.5),(-0.48,58.2),(-0.28,59.1),(-0.11,57.3),(0.01,58.8),(0.09,58.5),(0.29,57.9),(0.37,57.6),(0.49,58.5),(0.92,56.8),(1.06,56.8),(0.29,54.8),(0.54,54.5),(0.62,53.6),(0.94,54),(0.7,52),(0.9,52),(-0.48,55.7),(-0.48,54.1),(-0.32,53.5),(-0.24,52.9),(-1.05,52.6),(-0.95,52.5),(-0.52,51.7),(-0.64,51),(-0.84,51),(-0.15,51.3),(0.09,51.7),(0.01,49.5),(0.09,49.2),(0.29,50.4),(0.58,50.4),(0.66,48.9),(0.8,48.9),(0.92,50.1),(-2.42,48.1),(-2.32,47.6),(-1.45,48.5),(-1.31,48.4),(-1.53,46),(-1.64,44.2),(-1.45,42.9),(-0.68,45.1),(-0.19,44.8),(-0.07,44.5),(0.17,45.4),(0.25,46.7),(0.54,44.8),(0.74,45.1),(0.9,44.2),(0.66,43.6),(-1.17,42.3),(-1.01,42),(-0.88,42.9),(-0.8,43.2),(-0.72,44.8),(-0.56,42.6),(-0.32,44.2),(-0.15,42),(0.25,43.2),(0.41,42),(0.45,40.7),(0.78,40.4),(0.58,39.8),(0.94,39.4),(0.9,38.3),(-1.05,39.8),(-0.84,39.8),(-1.05,38.6),(-1.49,37.4),(-1.33,35.8),(-1.13,37.3),(-0.64,36.4),(-0.4,35.5),(-0.56,37.3),(0.74,36.7),(0.82,35.8),(1.09,36.9),(-1.7,32.2),(-2,31.5),(-1.31,32.5),(-1.31,31.4),(-1.05,32.7),(-0.84,32),(0.94,29.3),(0.82,28.6),(0.54,29.2),(0.41,28),(0.23,25.9),(0.09,25.5),(-0.99,26.2),(-0.32,27.4),(-0.48,27.7),(-0.07,28),(-0.28,24.6),(-0.03,23.1),(-0.66,28.9),(-0.75,35),(-0.7,31),(-0.62,38),(-0.58,30),(-0.52,34.6),(-0.42,39),(-0.38,29.2),(-0.3,37),(-0.25,32),(-0.2,39.5),(-0.12,30.4),(-0.05,38.2),(0.02,31),(0.1,38.6),(0.16,29.8),(0.24,37.6),(0.32,30.6),(0.42,38),(0.5,31),(0.58,37),(0.62,32.4),(0.7,35),(0.76,33),(0.86,34.4),(0.92,32.2),(0.52,33.8),(-0.82,33.5),(-0.9,35.2),(-0.95,30.4)]
F_shotgun_core = [(-0.42,55.4),(-0.43,52.6),(-0.3,56.6),(-0.5,49.6),(-0.4,48.6),(-0.33,50.2),(-0.3,47.3),(-0.12,46.5),(0.05,47.7),(0.02,46.1),(0.18,43.9),(0.08,42.6),(-0.21,40.9),(-0.6,40.6),(-0.46,41.5),(-0.74,38.6),(-0.87,37),(-0.62,33.3),(-0.88,30.9),(-0.55,31.6),(-0.47,37.9),(-0.32,39.3),(-0.13,38.6),(0.25,39.2),(0.52,39),(0.68,38.7),(0.8,37.6),(0.44,36.4),(0.32,37.9),(0.06,36.8),(-0.17,36.6),(-0.66,29.9),(-0.34,28.9),(-0.04,29.4),(0.3,29.2),(0.52,30.4),(0.7,30.6),(0.8,32),(0.68,33.7),(-0.1,34.6),(-0.24,36.3),(0.22,33.6),(0.38,35),(-0.56,35.4),(-0.45,32.9),(0.12,32.6),(0.04,30.2),(-0.8,36.2),(-0.98,34.2),(-1.15,33.6)]
F_454 = [(5.91,40),(1.71,30.5),(1.77,25.9),(1.29,40),(-0.19,73.3),(-0.32,73.1),(-0.4,71.8),(-0.46,70.5),(-0.72,70.9),(-0.9,69.8),(-0.72,69.4),(-0.9,68.7),(-0.72,68.5),(-0.64,68.2),(-1.09,68.2),(-1.19,66.5),(-0.99,66.7),(-0.84,66.3),(-0.45,67.5),(1.01,67.4),(-1.47,65.5),(-1.31,65.4),(-2.46,62.7),(-2.44,59.9),(-0.97,64.7),(-0.92,64),(-0.84,63.5),(-0.64,63.2),(-0.48,66.6),(-0.15,64.9),(0.01,65.4),(0.13,63.2),(-1.57,62.5),(-1.7,61.9),(-1.8,61),(-1.31,60.4),(-1.11,59.1),(-1.31,58.8),(-0.52,59.4),(-0.4,58.8),(-0.24,60.4),(-0.11,61.3),(0.07,59.1),(0.24,61.3),(0.37,60.9),(0.58,60.5),(0.21,59.1),(0.37,59.1),(0.62,59.4),(0.07,57.3),(0.33,57.9),(-0.48,56),(-0.4,55.1),(-0.14,55.7),(-1.05,55.4),(-1.17,56),(-1.74,56.3),(-0.71,54.3),(-0.48,53.2),(-0.36,53.5),(0.25,55.7),(0.7,55.7),(0.49,55.4),(0.72,54.6),(0.17,54.8),(0.29,53.5),(0.9,53.2),(0.92,52.6),(0.58,52),(0.29,52.9),(-1.57,52.1),(-1.05,51.7),(-0.64,51.7),(-0.64,49.8),(-0.48,49.8),(-0.32,51.7),(-0.07,51.3),(-1.41,49.3),(0.49,49.2),(-0.56,48.2),(-0.68,48.2),(0.17,48.2),(0.37,48.7),(1.06,48.2),(0.9,47.3),(-2,47.3),(-0.84,46.4),(-0.64,47.3),(-0.32,46),(0.09,47),(-0.07,45.7),(0.13,45.4),(0.58,46.4),(0.7,46.4),(-0.88,44.8),(-0.92,44.2),(-1.65,44.2),(-0.8,42.9),(-0.68,41.7),(-0.56,41.4),(-0.6,42.6),(-0.19,43.9),(0.29,43.6),(0.45,42.6),(0.62,42.9),(0.86,43.1),(-0.24,41.4),(-0.03,41),(0.13,41.7),(0.33,41.4),(-1.52,40.4),(-1.49,39.5),(-1.31,39.6),(-2.32,38.7),(-1.76,38.3),(-1.49,39.8),(-1.09,38.6),(-0.8,38.9),(-0.56,39.8),(-0.36,39.2),(-0.07,39.8),(0.41,39.8),(0.58,39.5),(0.82,37.3),(-1.33,37.3),(-1.33,36.7),(-1.41,37.3),(-1.29,36.1),(-1.13,36.7),(-1.11,34.5),(0.9,34.2),(1.1,34.5),(1.02,33),(0.9,32.6),(-1.31,29.4),(-1.05,28.2),(-1.82,28.2),(-1.7,28.2),(-0.97,30.5),(-0.84,30.8),(-0.8,27.7),(-0.64,28.6),(-0.56,27.7),(-0.44,25.5),(-0.56,26.7),(-0.19,24.4),(-0.03,23.9),(0.41,23.9),(0.51,25.3),(0.84,25.9),(0.25,27.4),(0.74,30.8),(0.9,30.5),(0.82,28.9),(0.58,29.8),(-0.24,25.5),(0.01,26.7),(-0.15,27.4)]
F_454_core = [(-0.7,34),(-0.65,32),(-0.6,35.5),(-0.55,33),(-0.5,30.5),(-0.48,36.5),(-0.45,34.5),(-0.4,31.8),(-0.38,33.2),(-0.35,37.3),(-0.32,35),(-0.3,30),(-0.28,32.5),(-0.25,34),(-0.22,36),(-0.2,38),(-0.18,33),(-0.15,31),(-0.12,35),(-0.1,29.5),(-0.08,32),(-0.05,34),(-0.03,36.6),(0,30.6),(0,33),(0.02,35),(0.05,38),(0.08,31.5),(0.1,34),(0.12,36),(0.15,33),(0.18,29.5),(0.2,35),(0.22,31),(0.25,37),(0.28,33.5),(0.3,35.5),(0.35,32),(0.38,34),(0.4,30),(0.42,36),(0.45,33),(0.5,35),(0.55,31.5),(0.6,34),(0.65,36.5),(0.7,32.8),(0.75,34.6),(0.8,31),(0.85,33.5),(-0.6,29.5),(-0.72,36),(-0.1,37),(-0.26,31.2),(-0.02,32.2),(0.14,31.8),(0.06,33.6),(-0.16,34.2),(-0.34,33.8),(0.26,32.4),(0.32,36.6),(0.48,31),(-0.46,33.4),(-0.42,35.5),(-0.36,32.3),(-0.31,36.2),(-0.27,30.8),(-0.24,33.1),(-0.21,35),(-0.19,31.6),(-0.14,33.4),(-0.11,36),(-0.09,30.6),(-0.06,33),(-0.04,35.4),(-0.01,31.6),(0.01,34.2),(0.04,36.3),(0.07,32.6),(0.11,30.4),(0.13,35),(0.16,34.2),(0.19,32.2),(0.23,33.4),(0.29,30.8),(0.33,34.2),(0.36,37.4),(0.44,31.9),(0.53,33),(0.58,35.5),(0.72,35.8),(-0.56,36.6),(-0.64,34.7),(-0.76,32.8),(-0.83,34.5),(-0.9,32.2),(-0.68,37.5),(-0.52,38.4),(-0.28,38.9),(0,39.2),(0.17,38.2),(0.34,39),(0.62,38)]

Y_TICKS = [20, 30, 40, 50, 60, 70, 80]
Y_LABELS = ['20%', '30%', '40%', '50%', '60%', '70%', '80%']
BLACK, YELLOW, RED, BLUE = 'black', '#FFFF00', '#FF0000', '#0000FF'

PELU = 'Cand. $\\mathit{Pelagibacter\\ ubique}$'
PELH = 'Cand. $\\mathit{Pelagibacter}$ sp. HTCC7211'
PRO = '$\\mathit{Prochlorococcus\\ marinus}$'
RAL = '$\\mathit{Ralstonia\\ pickettii}$'
POL = '$\\mathit{Polynucleobacter\\ necessarius}$'
ROS = '$\\mathit{Roseiflexus}$ sp. RS-1'
PGB = '$\\mathit{Pelagibacterium}$'

panels = [
 dict(letter='A', dx=0, dy=0, title='Fosmid Ends/454', xl='Bias = log$_2$(Fosmid Ends/454)',
      xlim=(-6.435, 6.435), ticks=range(-5, 6), first=A_fosmid, second=A_454, kinds=('y', 'r'),
      names=('GC in Fosmid Ends', 'GC in 454'), leg=(200, 216, 404, 419),
      ann=[(-3.34, 33.7, 31.4, -3.34, 34.4, 'bottom', PELU), (-2.95, 32.8, 30.9, -2.95, 33.6, 'bottom', PELH), (-1.34, 35, 32.2, -1.3, 35.6, 'bottom', PRO)]),
 dict(letter='B', dx=0, dy=483, title='Fosmid Ends/Shotgun', xl='Bias = log$_2$(Fosmid Ends/Shotgun)',
      xlim=(-6.435, 6.435), ticks=range(-5, 6), first=B_fosmid, second=B_shotgun, kinds=('y', 'b'),
      names=('GC in Fosmid Ends', 'GC in Shotgun'), leg=(200, 216, 404, 419),
      ann=[(-3.52, 34, 30.5, -3.6, 34.4, 'bottom', PELU), (-3.42, 33.1, 30.4, -3.3, 33.6, 'bottom', PELH), (-0.68, 35.2, 32.4, -0.64, 35.8, 'bottom', PRO)]),
 dict(letter='C', dx=0, dy=966, title='Shotgun/454', xl='Bias = log$_2$(Shotgun/454)',
      xlim=(-3.43, 9.44), ticks=range(-2, 9), first=C_shotgun + C_shotgun_core, second=C_454 + C_454_core, kinds=('b', 'r'),
      names=('GC in Shotgun', 'GC in 454'), leg=(241, 257, 404, 419),
      ann=[(7.32, 46.4, 40, 7.32, 47, 'bottom', POL), (2.04, 60.9, 65.6, 2.04, 60.5, 'top', RAL), (-0.48, 51.3, 56.3, -0.48, 50.7, 'top', ROS)]),
 dict(letter='D', dx=672, dy=8, title='Fosmid Ends/454', xl='Bias = log$_2$(Fosmid Ends/454)',
      xlim=(-6.435, 6.435), ticks=range(-5, 6), first=D_fosmid, second=D_454, kinds=('y', 'r'),
      names=('GC in Fosmid Ends', 'GC in 454'), leg=(200, 216, 404, 419),
      ann=[(-3.32, 33, 31.3, -3.32, 33.4, 'bottom', PELH), (-3.15, 35.7, 31.4, -3.03, 36, 'bottom', PELU), (-0.47, 35, 32.6, -0.47, 35.6, 'bottom', PRO), (1.01, 40.4, 34.5, 1.01, 41, 'bottom', PGB)]),
 dict(letter='E', dx=672, dy=490, title='Fosmid Ends/Shotgun', xl='Bias = log$_2$(Fosmid Ends/Shotgun)',
      xlim=(-6.435, 6.435), ticks=range(-5, 6), first=E_fosmid, second=E_shotgun, kinds=('y', 'b'),
      names=('GC in Fosmid Ends', 'GC in Shotgun'), leg=(200, 216, 404, 419),
      ann=[(-4.46, 46.2, 43.4, -4.46, 46.8, 'bottom', POL), (-3.38, 33, 31.6, -3.4, 33.4, 'bottom', PELH), (-3.2, 35.5, 31.4, -3.12, 36, 'bottom', PELU), (-0.39, 35.2, 33, -0.42, 35.2, 'bottom', PRO), (0.62, 55.3, 62.1, 0.6, 54.9, 'top', RAL)]),
 dict(letter='F', dx=672, dy=973, title='Shotgun/454', xl='Bias = log$_2$(Shotgun/454)',
      xlim=(-5.43, 7.44), ticks=range(-4, 7), first=F_shotgun + F_shotgun_core, second=F_454 + F_454_core, kinds=('b', 'r'),
      names=('GC in Shotgun', 'GC in 454'), leg=(241, 257, 404, 419),
      ann=[(5.91, 46.2, 40, 5.91, 46.8, 'bottom', POL), (1.31, 62.1, 65.5, 1.31, 61.6, 'top', RAL), (-1.9, 51.3, 56.3, -1.95, 50.7, 'top', ROS)]),
]

fig = plt.figure(figsize=(W / 100, H / 100), dpi=100, facecolor='white')


def fx(px):
    return px / W


def fy(py):
    return 1 - py / H


fig.text(fx(350), fy(33), 'HOT 179 \u2013 125\u2009m', ha='center', va='center', fontsize=27, fontweight='bold')
fig.text(fx(1022), fy(33), 'HOT 179 \u2013 125\u2009m: Long Reads Split', ha='center', va='center', fontsize=27, fontweight='bold')

STY = {'y': dict(marker='o', mfc=YELLOW, mec=BLACK, ms=3.4, mew=0.9, ls='none'),
       'r': dict(marker='x', color=RED, ms=3.6, mew=0.9, ls='none'),
       'b': dict(marker=(8, 2, 0), color=BLUE, ms=5, mew=0.85, ls='none')}
LEG = {'y': dict(marker='o', mfc=YELLOW, mec=BLACK, ms=6.2, mew=0.9, ls='none'),
       'r': dict(marker='x', color=RED, ms=6, mew=0.8, ls='none'),
       'b': dict(marker=(8, 2, 0), color=BLUE, ms=7.5, mew=0.8, ls='none')}

for p in panels:
    dx, dy = p['dx'], p['dy']
    ax = fig.add_axes([fx(128 + dx), fy(453 + dy), 529 / W, 321 / H])
    ax.set_xlim(*p['xlim'])
    ax.set_ylim(20, 80)
    ax.patch.set_alpha(0)
    for s in ('top', 'right', 'bottom'):
        ax.spines[s].set_visible(False)
    ax.spines['left'].set_position(('outward', 21 * 0.72))
    ax.spines['left'].set_bounds(20, 80)
    ax.spines['left'].set_linewidth(0.8)
    ax.spines['bottom'].set_position(('outward', 12 * 0.72))
    ax.set_yticks(Y_TICKS)
    ax.set_yticklabels(Y_LABELS, fontsize=14.8)
    ax.tick_params(axis='y', length=9.4, width=0.8, pad=1.5, colors='#111111')
    lo, hi = p['xlim']
    tks = [lo] + list(p['ticks']) + [hi]
    ax.set_xticks(tks)
    ax.set_xticklabels(['\u2212\u221e'] + [str(t) for t in p['ticks']] + ['+\u221e'], fontsize=14.8)
    ax.tick_params(axis='x', length=9.4, width=0.8, pad=8.5, colors='#111111')
    for t in (ax.get_xticklabels()[0], ax.get_xticklabels()[-1]):
        t.set_color('#666666')
        t.set_fontsize(19)

    # broken x axis line
    u = (hi - lo) / 529
    ya = 20 - 12 / 5.35
    yv = 4 / 5.35
    ax.plot([lo, lo + 22 * u], [ya, ya], color=BLACK, lw=0.8, clip_on=False)
    ax.plot([lo + 37 * u, hi - 32 * u], [ya, ya], color=BLACK, lw=0.8, clip_on=False)
    ax.plot([hi - 17 * u, hi], [ya, ya], color=BLACK, lw=0.8, clip_on=False)
    for a in (19, 31):
        ax.plot([lo + a * u, lo + (a + 11) * u], [ya - yv, ya + yv * 0.8], color=BLACK, lw=0.8, clip_on=False)
    for a in (36, 24):
        ax.plot([hi - a * u, hi - (a - 11) * u], [ya - yv, ya + yv * 0.8], color=BLACK, lw=0.8, clip_on=False)

    # series
    for pts, kind in zip((p['first'], p['second']), p['kinds']):
        xs = [min(max(v[0], lo), hi) for v in pts]
        ys = [v[1] for v in pts]
        ax.plot(xs, ys, clip_on=False, zorder=3, **STY[kind])

    # annotations
    for x0, y0, y1, lx, ly, va, txt in p['ann']:
        ax.annotate('', xy=(x0, y1), xytext=(x0, y0),
                    arrowprops=dict(arrowstyle='->', lw=0.9, color=BLACK, shrinkA=0, shrinkB=0, mutation_scale=9), zorder=4)
        ax.text(lx, ly, txt, rotation=90, ha='center', va=va, fontsize=8.6, color='#111111', zorder=5)

    # texts in figure pixels
    fig.text(fx(392.5 + dx), fy(104 + dy), p['title'], ha='center', va='center', fontsize=27.4, fontweight='bold')
    fig.text(fx(27 + dx), fy(134 + dy), p['letter'], ha='center', va='center', fontsize=28, fontweight='bold')
    fig.text(fx(37 + dx), fy(292 + dy), 'GC Content', rotation=90, ha='center', va='center', fontsize=18.5, color='#111111')
    fig.text(fx(392.5 + dx), fy(522 + dy), p['xl'], ha='center', va='center', fontsize=18.3, color='#111111')

    m1, t1, m2, t2 = p['leg']
    yl = 446 + dy
    fig.add_artist(Line2D([fx(m1 + dx)], [fy(yl - 1)], transform=fig.transFigure, **LEG[p['kinds'][0]]))
    fig.add_artist(Line2D([fx(m2 + dx)], [fy(yl - 1)], transform=fig.transFigure, **LEG[p['kinds'][1]]))
    fig.text(fx(t1 + dx), fy(yl), p['names'][0], ha='left', va='center', fontsize=14.6, color='#111111')
    fig.text(fx(t2 + dx), fy(yl), p['names'][1], ha='left', va='center', fontsize=14.6, color='#111111')

fig.savefig('out.png', dpi=100)
